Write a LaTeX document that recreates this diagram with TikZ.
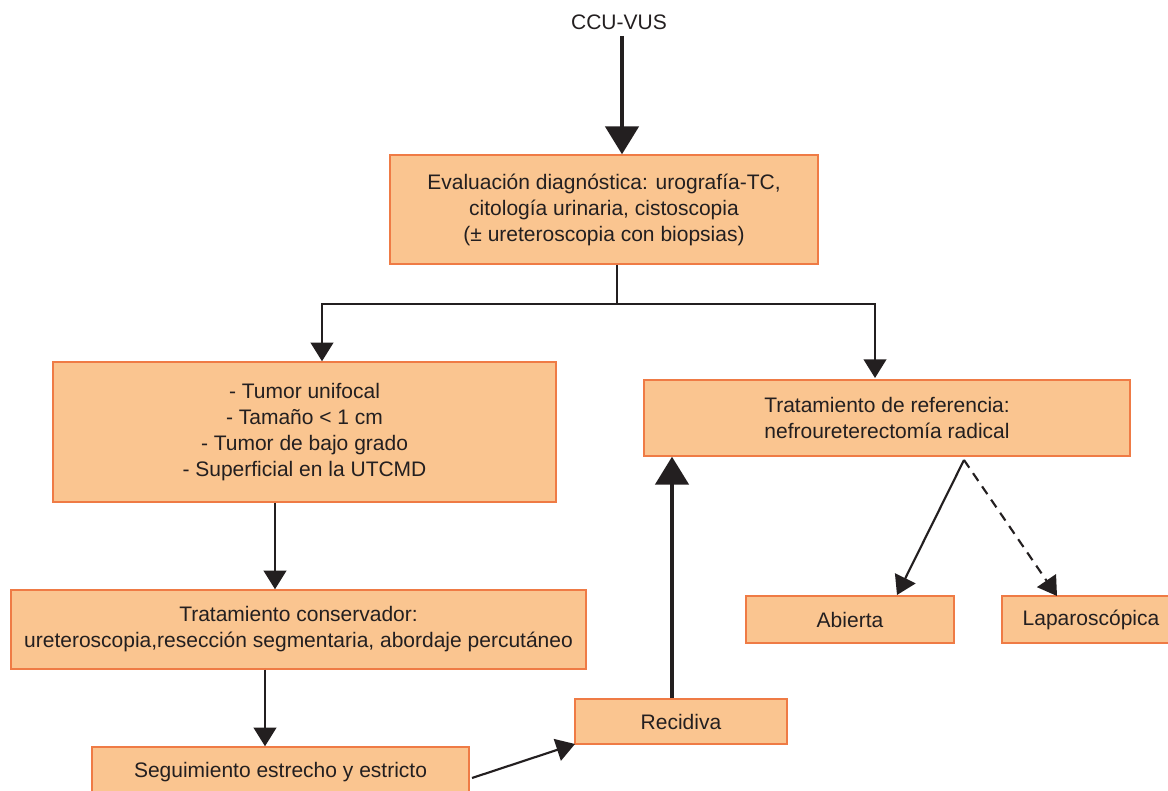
\documentclass[tikz,border=0pt]{standalone}
\usepackage{fontspec}
\setmainfont{Liberation Sans}
\usetikzlibrary{arrows.meta}
\definecolor{boxfill}{HTML}{FAC590}
\definecolor{boxline}{HTML}{EF7B45}
\definecolor{ink}{HTML}{231F20}
\begin{document}
\begin{tikzpicture}[x=0.75pt,y=-0.75pt,
  box/.style={draw=boxline, fill=boxfill, line width=1.1pt, inner sep=0pt,
    align=center, text=ink, font=\fontsize{15.75}{19.5}\selectfont},
  lbl/.style={text=ink, inner sep=0pt, font=\fontsize{15.75}{19.5}\selectfont},
  conn/.style={draw=ink, line width=1.6pt, -{Triangle[length=14pt,width=17pt]}},
  thick conn/.style={draw=ink, line width=3pt, -{Triangle[length=21pt,width=25pt]}},
  dashconn/.style={conn, dash pattern=on 7pt off 5pt}
]
\useasboundingbox (0,0) rectangle (1168,791);

\node[lbl] (ccu) at (619,22) {CCU-VUS};
\node[box, minimum width=321pt, minimum height=81.75pt] (eval) at (604,209.5)
  {Evaluación diagnóstica: urografía-TC,\\citología urinaria, cistoscopia\\(± ureteroscopia con biopsias)};
\node[box, minimum width=377.25pt, minimum height=105pt] (tumor) at (304.5,432)
  {- Tumor unifocal\\- Tamaño < 1 cm\\- Tumor de bajo grado\\- Superficial en la UTCMD};
\node[box, minimum width=364.5pt, minimum height=57pt] (ref) at (887,418)
  {Tratamiento de referencia:\\nefroureterectomía radical};
\node[box, minimum width=431.25pt, minimum height=59.25pt] (cons) at (298.5,629.5)
  {Tratamiento conservador:\\ureteroscopia,resección segmentaria, abordaje percutáneo};
\node[box, minimum width=282.75pt, minimum height=37.5pt] (seg) at (280.5,772)
  {Seguimiento estrecho y estricto};
\node[box, minimum width=159pt, minimum height=33.75pt] (rec) at (681,721.5)
  {Recidiva};
\node[box, minimum width=156pt, minimum height=35.25pt] (ab) at (850,619.5)
  {Abierta};
\node[box, minimum width=133.5pt, minimum height=35.25pt] (lap) at (1091,619.5)
  {Laparoscópica};

% connectors
\coordinate (top) at (622,36);
\draw[thick conn] (top) -- (eval.north -| top);

\coordinate (split) at (617,304);
\draw[draw=ink, line width=1.6pt] (eval.south -| split) -- (split);
\draw[conn] (split) -| (tumor.north -| 322,0);
\draw[conn] (split) -| (875,378);

\draw[conn] (tumor.south -| 275,0) -- (cons.north -| 275,0);
\draw[conn] (cons.south -| 265,0) -- (seg.north -| 265,0);

\coordinate (s1) at (472,778);
\coordinate (r1) at (575,744);
\draw[conn] (s1) -- (r1);

\draw[thick conn] (rec.north -| 672,0) -- (ref.south -| 672,0);

\coordinate (fork) at (964,460);
\draw[conn] (fork) -- (897,595);
\draw[dashconn] (fork) -- (1057,596);
\end{tikzpicture}
\end{document}
